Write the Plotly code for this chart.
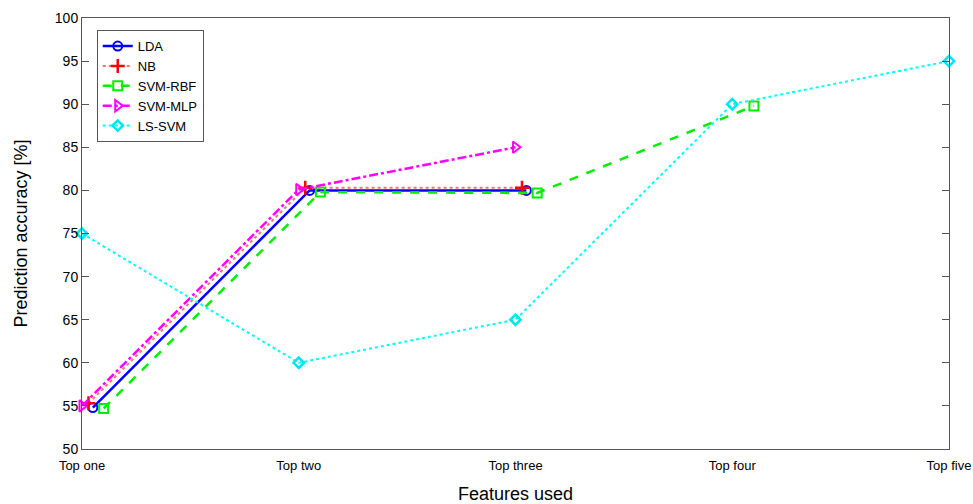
import plotly.graph_objects as go

categories = ["Top one", "Top two", "Top three", "Top four", "Top five"]
cat_pos = [1, 2, 3, 4, 5]

lda_x = [1.05, 2.05, 3.05]
lda_y = [54.8, 80.0, 80.0]
nb_x = [1.03, 2.03, 3.03]
nb_y = [55.3, 80.3, 80.3]
rbf_x = [1.1, 2.1, 3.1, 4.1]
rbf_y = [54.7, 79.8, 79.7, 89.8]
mlp_x = [1.0, 2.0, 3.0]
mlp_y = [55.0, 80.1, 85.0]
ls_x = [1.0, 2.0, 3.0, 4.0, 5.0]
ls_y = [75.0, 60.0, 65.0, 90.0, 95.0]

fig = go.Figure()
fig.add_trace(go.Scatter(x=lda_x, y=lda_y, name="LDA", mode="lines+markers", cliponaxis=False,
                         line=dict(color="#0000ff", width=2.5, dash="solid"),
                         marker=dict(symbol="circle-open", size=9, color="#0000ff", line=dict(width=2))))
fig.add_trace(go.Scatter(x=nb_x, y=nb_y, name="NB", mode="lines+markers", cliponaxis=False,
                         line=dict(color="#ff7070", width=2, dash="dot"),
                         marker=dict(symbol="cross-thin-open", size=10, color="#ff0000", line=dict(width=2.5, color="#ff0000"))))
fig.add_trace(go.Scatter(x=rbf_x, y=rbf_y, name="SVM-RBF", mode="lines+markers", cliponaxis=False,
                         line=dict(color="#00ee00", width=2.5, dash="dash"),
                         marker=dict(symbol="square-open", size=9, color="#00ee00", line=dict(width=2))))
fig.add_trace(go.Scatter(x=mlp_x, y=mlp_y, name="SVM-MLP", mode="lines+markers", cliponaxis=False,
                         line=dict(color="#ff00ff", width=2.5, dash="dashdot"),
                         marker=dict(symbol="triangle-right-open", size=10, color="#ff00ff", line=dict(width=2))))
fig.add_trace(go.Scatter(x=ls_x, y=ls_y, name="LS-SVM", mode="lines+markers", cliponaxis=False,
                         line=dict(color="#00ffff", width=2, dash="dot"),
                         marker=dict(symbol="diamond-open", size=8, color="#00e5ee", line=dict(width=2.5))))

fig.update_layout(
    width=973, height=504,
    margin=dict(l=82, r=24, t=18, b=55),
    paper_bgcolor="white", plot_bgcolor="white",
    font=dict(family="Liberation Sans, Arial, sans-serif", color="#262626", size=13),
    showlegend=True,
    legend=dict(x=0.017, y=0.972, xanchor="left", yanchor="top",
                bgcolor="white", bordercolor="#555555", borderwidth=1,
                font=dict(size=13, color="#000000"), tracegroupgap=0,
                itemwidth=30),
    xaxis=dict(range=[1, 5], tickvals=cat_pos, ticktext=categories, automargin=False,
               showgrid=False, zeroline=False, showline=True, linecolor="#555555", linewidth=1,
               mirror=True, ticks="outside", ticklen=4, tickcolor="rgba(0,0,0,0)",
               tickfont=dict(size=13, color="#000000"),
               title=dict(text="Features used", font=dict(size=18, color="#000000"), standoff=18)),
    yaxis=dict(range=[50, 100], tickvals=list(range(50, 101, 5)), automargin=False,
               showgrid=False, zeroline=False, showline=True, linecolor="#555555", linewidth=1,
               mirror="ticks", ticks="inside", ticklen=7, tickcolor="#555555",
               tickfont=dict(size=14, color="#000000"),
               title=dict(text="Prediction accuracy [%]", font=dict(size=18, color="#000000"), standoff=22)),
)

fig.write_html("out.html")
